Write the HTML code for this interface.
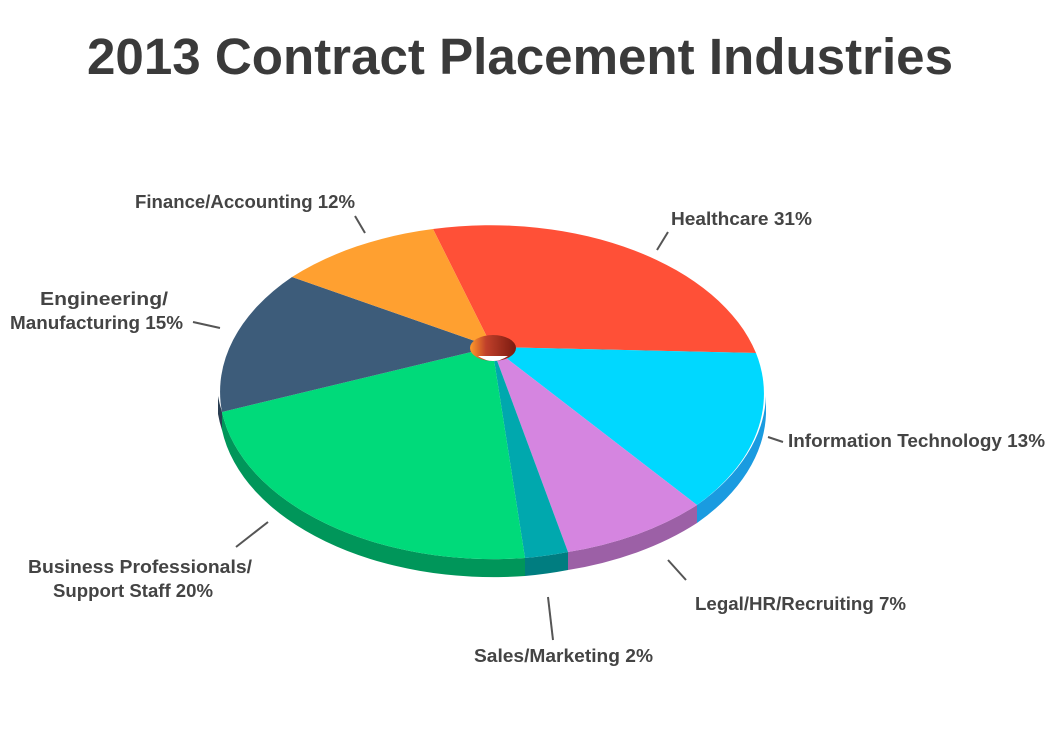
<!DOCTYPE html>
<html><head><meta charset="utf-8"><style>
html,body{margin:0;padding:0;background:#fff;width:1050px;height:750px;overflow:hidden}
text{font-family:"Liberation Sans",sans-serif;font-weight:bold;fill:#444}
</style></head><body>
<svg width="1050" height="750" viewBox="0 0 1050 750">
<defs>
<linearGradient id="hole" x1="0" x2="1"><stop offset="0" stop-color="#ff9a2a"/><stop offset="0.35" stop-color="#c0402a"/><stop offset="1" stop-color="#7a1a10"/></linearGradient>
</defs>
<text x="520" y="74" text-anchor="middle" style="font-size:51px;fill:#3a3a3a" textLength="866" lengthAdjust="spacingAndGlyphs">2013 Contract Placement Industries</text>
<path d="M766,396 A274,170 0 0 1 697,505 L697,523 A274,170 0 0 0 766,414 Z" fill="#1a9be0"/>
<path d="M697,505 A274,170 0 0 1 568,552 L568,570 A274,170 0 0 0 697,523 Z" fill="#9c60a6"/>
<path d="M568,552 A274,170 0 0 1 525,558 L525,576 A274,170 0 0 0 568,570 Z" fill="#007d80"/>
<path d="M525,558 A274,170 0 0 1 222,412 L222,430 A274,170 0 0 0 525,576 Z" fill="#00965a"/>
<path d="M222,412 A274,170 0 0 1 218,396 L218,414 A274,170 0 0 0 222,430 Z" fill="#2a3e52"/>
<path d="M492,347 L433,229 A274,170 0 0 1 756,353 Z" fill="#ff5037"/>
<path d="M492,347 L756,353 A274,170 0 0 1 697,505 Z" fill="#00d8ff"/>
<path d="M492,347 L697,505 A274,170 0 0 1 568,552 Z" fill="#d585e0"/>
<path d="M492,347 L568,552 A274,170 0 0 1 525,558 Z" fill="#00a8ae"/>
<path d="M492,347 L525,558 A274,170 0 0 1 222,412 Z" fill="#00da7a"/>
<path d="M492,347 L222,412 A274,170 0 0 1 292,277 Z" fill="#3d5c7a"/>
<path d="M492,347 L292,277 A274,170 0 0 1 433,229 Z" fill="#ffa030"/>
<ellipse cx="493" cy="348" rx="23" ry="13" fill="url(#hole)"/>
<path d="M478,356 Q493,366 508,356 Z" fill="#fff"/>
<g stroke="#555" stroke-width="2">
<line x1="355" y1="216" x2="365" y2="233"/>
<line x1="668" y1="232" x2="657" y2="250"/>
<line x1="193" y1="322" x2="220" y2="328"/>
<line x1="768" y1="437" x2="783" y2="442"/>
<line x1="668" y1="560" x2="686" y2="580"/>
<line x1="548" y1="597" x2="553" y2="640"/>
<line x1="236" y1="547" x2="268" y2="522"/>
</g>
<g style="font-size:18px">
<text x="135" y="208" textLength="220" lengthAdjust="spacingAndGlyphs">Finance/Accounting 12%</text>
<text x="671" y="225" textLength="141" lengthAdjust="spacingAndGlyphs">Healthcare 31%</text>
<text x="40" y="305" textLength="128" lengthAdjust="spacingAndGlyphs">Engineering/</text>
<text x="10" y="329" textLength="173" lengthAdjust="spacingAndGlyphs">Manufacturing 15%</text>
<text x="788" y="447" textLength="257" lengthAdjust="spacingAndGlyphs">Information Technology 13%</text>
<text x="695" y="610" textLength="211" lengthAdjust="spacingAndGlyphs">Legal/HR/Recruiting 7%</text>
<text x="474" y="662" textLength="179" lengthAdjust="spacingAndGlyphs">Sales/Marketing 2%</text>
<text x="28" y="573" textLength="224" lengthAdjust="spacingAndGlyphs">Business Professionals/</text>
<text x="53" y="597" textLength="160" lengthAdjust="spacingAndGlyphs">Support Staff 20%</text>
</g>
</svg>
</body></html>
